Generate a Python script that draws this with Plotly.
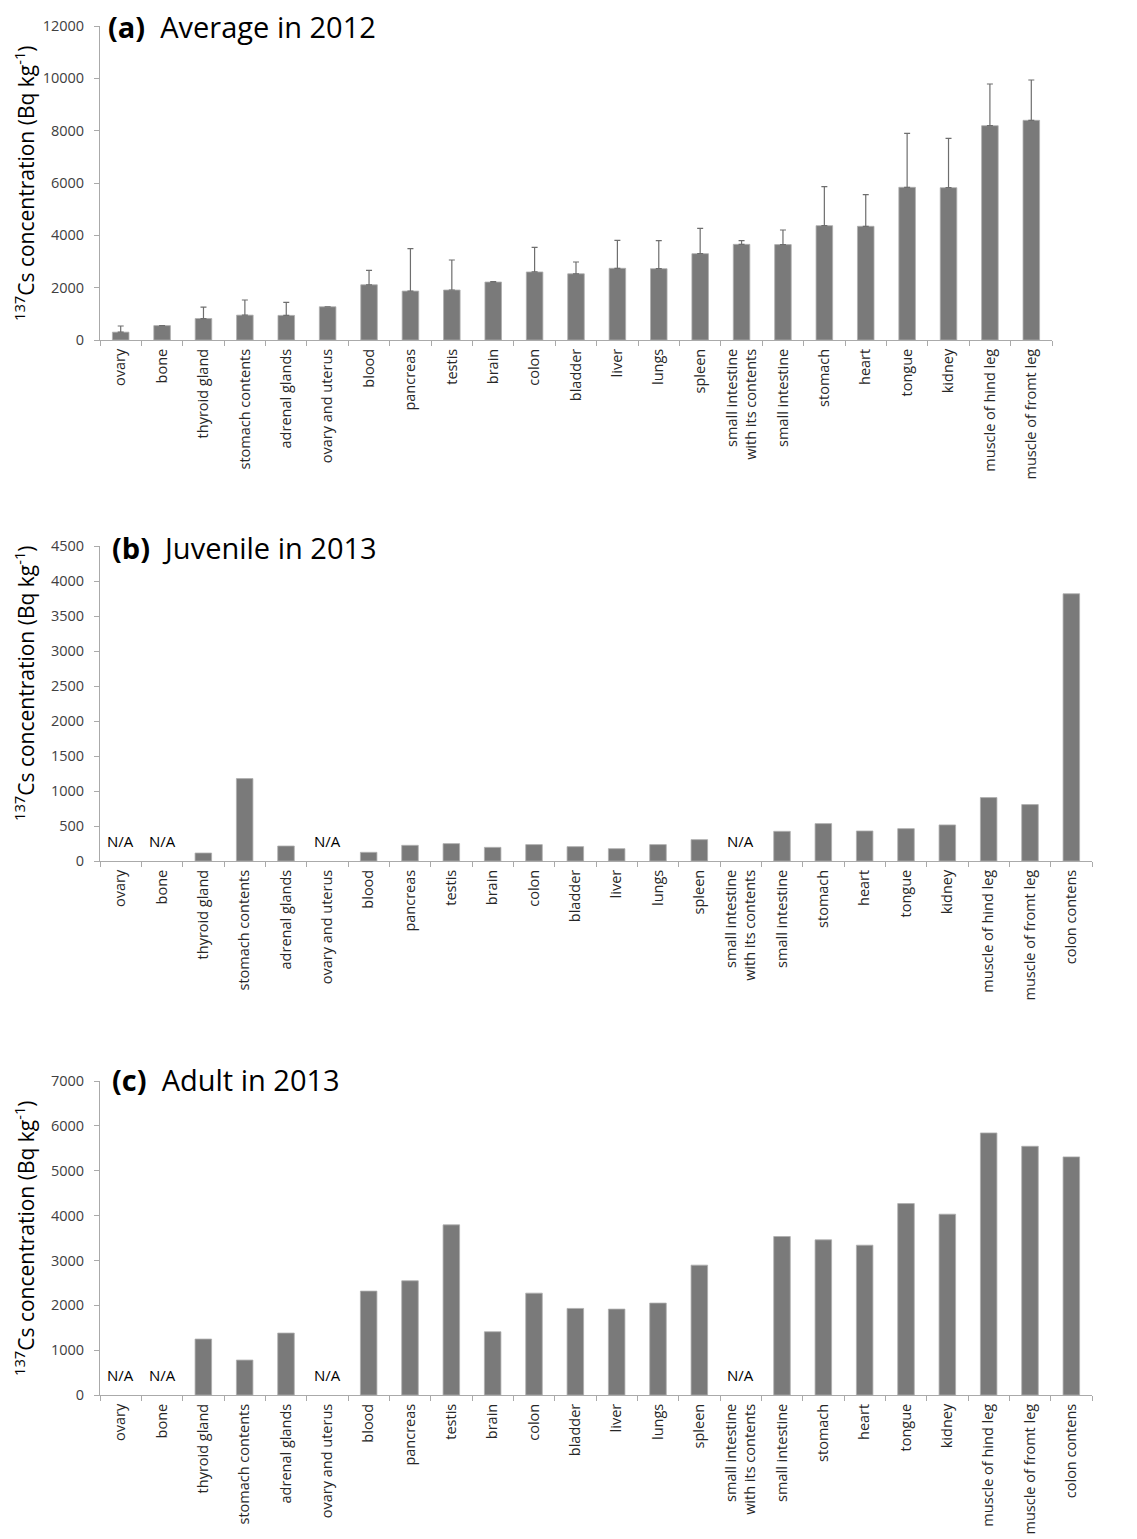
import plotly.graph_objects as go

cats_a = ["ovary", "bone", "thyroid gland", "stomach contents", "adrenal glands",
          "ovary and uterus", "blood", "pancreas", "testis", "brain", "colon",
          "bladder", "liver", "lungs", "spleen", "small intestine<br>with its contents",
          "small intestine", "stomach", "heart", "tongue", "kidney",
          "muscle of hind leg", "muscle of fromt leg"]
vals_a = [300, 550, 820, 950, 940, 1270, 2110, 1870, 1910, 2215, 2600, 2530, 2740,
          2725, 3300, 3655, 3645, 4370, 4345, 5835, 5820, 8190, 8395]
err_a = [235, None, 440, 578, 500, None, 552, 1620, 1147, 15, 940, 451, 1069,
         1071, 967, 141, 559, 1490, 1210, 2063, 1887, 1593, 1541]

cats_bc = cats_a + ["colon contens"]
vals_b = [None, None, 114, 1177, 214, None, 124, 224, 248, 195, 234, 205, 176, 234,
          305, None, 424, 534, 429, 462, 515, 906, 806, 3818]
vals_c = [None, None, 1247, 779, 1381, None, 2316, 2546, 3793, 1410, 2271, 1930,
          1915, 2049, 2895, None, 3533, 3459, 3340, 4268, 4031, 5842, 5545, 5308]

titles = ["(a)", "(b)", "(c)"]
subtitles = ["Average in 2012", "Juvenile in 2013", "Adult in 2013"]
ymax = [12000, 4500, 7000]
ydt = [2000, 500, 1000]

OFF = 8  # page body margin
W, H = 1137 - OFF, 1539 - OFF
BAR = "rgb(122,122,122)"
AX = "rgb(170,170,170)"
FONT = "Open Sans"

def px_x(px):
    return (px - OFF) / W

def px_y(px):
    return 1 - (px - OFF) / H

xdom = [[px_x(100), px_x(1052)], [px_x(100), px_x(1092)], [px_x(100), px_x(1092)]]
ydom = [[px_y(340), px_y(26)], [px_y(861), px_y(546)], [px_y(1395), px_y(1081)]]

fig = go.Figure()

fig.add_trace(go.Bar(
    x=cats_a, y=vals_a, xaxis="x", yaxis="y",
    marker=dict(color=BAR, line=dict(color="rgb(175,175,175)", width=0.8)),
    error_y=dict(type="data", symmetric=False, array=err_a,
                 arrayminus=[0] * len(err_a), color="rgb(110,110,110)",
                 thickness=1.2, width=3),
    showlegend=False))
fig.add_trace(go.Bar(
    x=cats_bc, y=vals_b, xaxis="x2", yaxis="y2",
    marker=dict(color=BAR, line=dict(color="rgb(175,175,175)", width=0.8)),
    showlegend=False))
fig.add_trace(go.Bar(
    x=cats_bc, y=vals_c, xaxis="x3", yaxis="y3",
    marker=dict(color=BAR, line=dict(color="rgb(175,175,175)", width=0.8)),
    showlegend=False))

layout = dict(
    width=W, height=H, margin=dict(l=0, r=0, t=0, b=0, autoexpand=False),
    paper_bgcolor="white", plot_bgcolor="white", bargap=0.6,
    font=dict(family=FONT, color="#333"),
)

ncats = [len(cats_a), len(cats_bc), len(cats_bc)]
for i in range(3):
    sx = "" if i == 0 else str(i + 1)
    layout["xaxis" + sx] = dict(
        domain=xdom[i], anchor="y" + sx, type="category",
        range=[-0.5, ncats[i] - 0.5], automargin=False,
        showline=True, linecolor=AX, linewidth=1,
        ticks="outside", tickson="boundaries", ticklen=5, tickcolor=AX,
        tickangle=-90, tickfont=dict(size=14.5, color="#262626", family=FONT),
        ticklabelstandoff=2,
        showgrid=False, zeroline=False, fixedrange=True)
    layout["yaxis" + sx] = dict(
        domain=ydom[i], anchor="x" + sx, range=[0, ymax[i]], dtick=ydt[i],
        tickformat="d", automargin=False,
        showline=True, linecolor=AX, linewidth=1,
        ticks="outside", ticklen=5, tickcolor=AX, ticklabelstandoff=7,
        tickfont=dict(size=14.5, color="#404040", family=FONT),
        showgrid=False, zeroline=False, fixedrange=True)

fig.update_layout(**layout)

annots = []
title_y = [27, 547, 1079]
ytitle_y = [183, 683, 1238]
title_x = [107, 111, 111]
for i in range(3):
    annots.append(dict(
        xref="paper", yref="paper", x=px_x(title_x[i]), y=px_y(title_y[i]),
        xanchor="left", yanchor="middle", showarrow=False, borderpad=0,
        text="<b>" + titles[i] + "</b>  " + subtitles[i],
        font=dict(size=29, color="black", family=FONT)))
    annots.append(dict(
        xref="paper", yref="paper", x=px_x(24), y=px_y(ytitle_y[i]),
        xanchor="center", yanchor="middle", showarrow=False, textangle=-90,
        text="<sup>137</sup>Cs concentration (Bq kg<sup>-1</sup>)",
        font=dict(size=21, color="black", family=FONT)))

for i, vals in [(1, vals_b), (2, vals_c)]:
    sx = str(i + 1)
    for j, v in enumerate(vals):
        if v is None:
            annots.append(dict(
                xref="x" + sx, yref="y" + sx, x=j, y=0,
                xanchor="center", yanchor="bottom", yshift=8, showarrow=False,
                text="N/A", font=dict(size=15, color="black", family=FONT)))

fig.update_layout(annotations=annots)
fig.write_html("out.html")
